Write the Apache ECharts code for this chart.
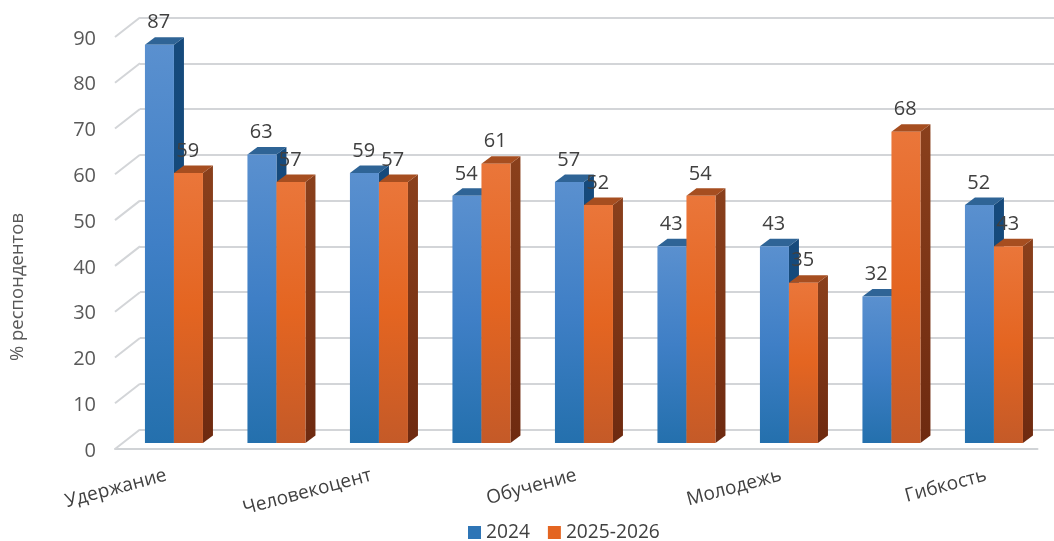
<!DOCTYPE html>
<html>
<head>
<meta charset="utf-8">
<style>html,body{margin:0;padding:0;background:#fff}#c{width:1054px;height:541px}</style>
<script src="https://cdn.jsdelivr.net/npm/echarts@6/dist/echarts.min.js"></script>
</head>
<body>
<div id="c"></div>
<script>
const categories = ['Удержание', '', 'Человекоцент', '', 'Обучение', '', 'Молодежь', '', 'Гибкость'];
const values2024 = [87, 63, 59, 54, 57, 43, 43, 32, 52];
const values2025 = [59, 57, 57, 61, 52, 54, 35, 68, 43];
const yTicks = [0, 10, 20, 30, 40, 50, 60, 70, 80, 90];

const FONT = '"Open Sans", sans-serif';
const PLANE_DX = 7.7, PLANE_DY = -6;   // bar plane relative to the front floor plane
const DEPTH_DX = 10, DEPTH_DY = -7.5; // bar depth
const WALL_DX = 25, WALL_DY = -19.5;  // back wall relative to the front floor plane

function grad(stops) {
  return new echarts.graphic.LinearGradient(0, 0, 0, 1,
    stops.map((c, i) => ({ offset: i / (stops.length - 1), color: c })));
}
function bar3d(side, pal) {
  return function (params, api) {
    const band = api.size([1, 0])[0];
    const w = band * 0.283;
    const c = api.coord([api.value(0), api.value(1)]);
    const b = api.coord([api.value(0), 0]);
    const x0 = c[0] + PLANE_DX + (side < 0 ? -w : 0);
    const x1 = x0 + w;
    const yT = c[1] + PLANE_DY;
    const yB = b[1] + PLANE_DY;
    const d = DEPTH_DX, e = DEPTH_DY;
    return {
      type: 'group',
      children: [
        { type: 'polygon', shape: { points: [[x1, yT], [x1 + d, yT + e], [x1 + d, yB + e], [x1, yB]] },
          style: { fill: grad(pal.side) } },
        { type: 'polygon', shape: { points: [[x0, yT], [x0 + d, yT + e], [x1 + d, yT + e], [x1, yT]] },
          style: { fill: pal.top } },
        { type: 'rect', shape: { x: x0, y: yT, width: w, height: yB - yT },
          style: { fill: grad(pal.front) } },
        { type: 'text', z2: 100, x: (x0 + x1) / 2 - 0.8, y: yT - 22,
          style: { text: String(api.value(1)), fill: '#404040', font: '20px ' + FONT,
                   textAlign: 'center', textVerticalAlign: 'middle' } }
      ]
    };
  };
}
const bluePal = { front: ['#5a90cf', '#3f7fc6', '#2470ad'], side: ['#164a7c', '#124a7a'], top: '#2f6496' };
const orangePal = { front: ['#ea763a', '#e46521', '#c45a28'], side: ['#8a401c', '#6e2a10'], top: '#a64e20' };

const chart = echarts.init(document.getElementById('c'), null, { renderer: 'canvas' });
chart.setOption({
  animation: false,
  backgroundColor: '#fff',
  textStyle: { fontFamily: FONT },
  grid: [
    { left: 115, top: 37, width: 922.5, height: 412 },
    { left: 140, top: 17.5, width: 923, height: 412 },
    { left: 115, top: 39, width: 922.5, height: 412 }
  ],
  xAxis: [
    { type: 'category', gridIndex: 0, data: categories,
      axisTick: { show: false },
      axisLine: { lineStyle: { color: '#d0d3d6', width: 2 } },
      axisLabel: { interval: 0, rotate: 15, margin: 26, fontSize: 19, color: '#404040', fontFamily: FONT } },
    { type: 'category', gridIndex: 1, data: categories, show: false },
    { type: 'category', gridIndex: 2, data: categories, show: false }
  ],
  yAxis: [
    { type: 'value', gridIndex: 0, min: 0, max: 90, interval: 10, show: false },
    { type: 'value', gridIndex: 1, min: 0, max: 90, interval: 10,
      axisLine: { show: false }, axisTick: { show: false }, axisLabel: { show: false },
      splitLine: { show: true, lineStyle: { color: '#d3d5d8', width: 2 } } },
    { type: 'value', gridIndex: 2, min: 0, max: 90, interval: 10,
      name: '% респондентов', nameLocation: 'middle', nameGap: 88,
      nameTextStyle: { fontSize: 18.5, color: '#595959', fontFamily: FONT, padding: [0, 84, 0, 0] },
      axisLine: { show: false }, axisTick: { show: false }, splitLine: { show: false },
      axisLabel: { margin: 19, fontSize: 20, color: '#595959', fontFamily: FONT } }
  ],
  legend: {
    left: 463, top: 518, itemWidth: 13, itemHeight: 13, itemGap: 18,
    icon: 'rect',
    textStyle: { fontSize: 19.2, color: '#404040', fontFamily: FONT },
    data: ['2024', '2025-2026']
  },
  series: [
    { type: 'custom', silent: true, xAxisIndex: 0, yAxisIndex: 0, z: 1,
      data: yTicks.map(t => [0, t]),
      renderItem: function (params, api) {
        const p = api.coord([0, api.value(1)]);
        const x = params.coordSys.x;
        return { type: 'line', shape: { x1: x, y1: p[1], x2: x + WALL_DX, y2: p[1] + WALL_DY },
                 style: { stroke: '#d3d5d8', lineWidth: 2 } };
      } },
    { name: '2024', type: 'custom', xAxisIndex: 0, yAxisIndex: 0, z: 3,
      itemStyle: { color: '#2e75b6' },
      data: values2024.map((v, i) => [i, v]), renderItem: bar3d(-1, bluePal) },
    { name: '2025-2026', type: 'custom', xAxisIndex: 0, yAxisIndex: 0, z: 4,
      itemStyle: { color: '#e46521' },
      data: values2025.map((v, i) => [i, v]), renderItem: bar3d(1, orangePal) }
  ]
});
</script>
</body>
</html>
